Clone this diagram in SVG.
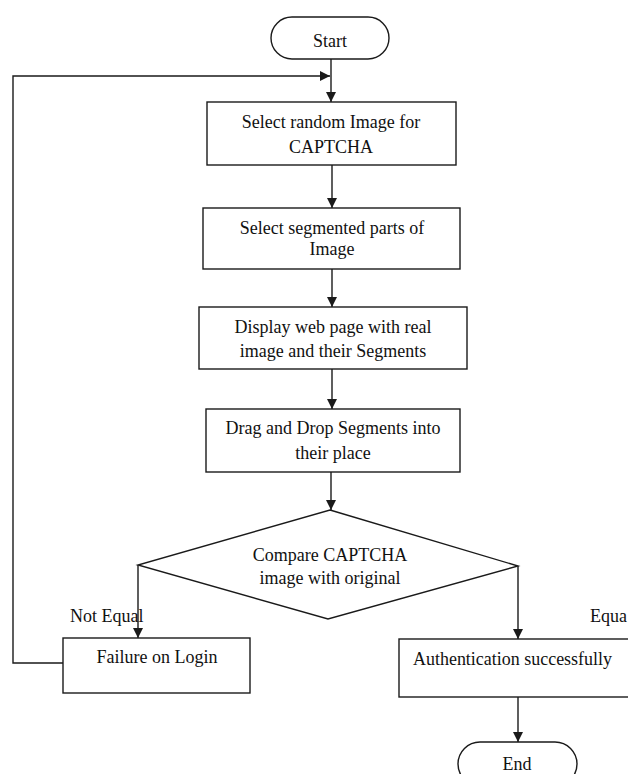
<svg xmlns="http://www.w3.org/2000/svg" width="628" height="774" viewBox="0 0 628 774">
<style>
.box{fill:#fff;stroke:#1a1a1a;stroke-width:1.4}
.t{font-family:"Liberation Serif","Times New Roman",serif;font-size:18px;fill:#111;text-anchor:middle}
.ts{font-family:"Liberation Serif","Times New Roman",serif;font-size:18px;fill:#111}
.c{fill:none;stroke:#1a1a1a;stroke-width:1.4}
</style>
<defs>
<marker id="ah" viewBox="0 0 10 10" refX="10" refY="5" markerWidth="10" markerHeight="10" markerUnits="userSpaceOnUse" orient="auto">
<path d="M0,0 L10,5 L0,10 z" fill="#1a1a1a"/>
</marker>
</defs>
<rect width="628" height="774" fill="#fff"/>
<g id="connectors">
<path class="c" d="M331,59 V102" marker-end="url(#ah)"/>
<path class="c" d="M63,663 H13 V76 H330" marker-end="url(#ah)"/>
<path class="c" d="M332,165 V208" marker-end="url(#ah)"/>
<path class="c" d="M332,269 V307" marker-end="url(#ah)"/>
<path class="c" d="M332,369 V409" marker-end="url(#ah)"/>
<path class="c" d="M331,472 V510" marker-end="url(#ah)"/>
<path class="c" d="M138,565 V638" marker-end="url(#ah)"/>
<path class="c" d="M518,566 V639" marker-end="url(#ah)"/>
<path class="c" d="M518,697 V742" marker-end="url(#ah)"/>
</g>
<g id="start">
<rect class="box" x="271" y="17" width="118" height="42" rx="21" ry="21"/>
<text class="t" x="330" y="47">Start</text>
</g>
<g id="box1">
<rect class="box" x="207" y="102" width="249" height="63"/>
<text class="t" x="331" y="128">Select random Image for</text>
<text class="t" x="331" y="153">CAPTCHA</text>
</g>
<g id="box2">
<rect class="box" x="203" y="208" width="257" height="61"/>
<text class="t" x="332" y="234">Select segmented parts of</text>
<text class="t" x="332" y="255">Image</text>
</g>
<g id="box3">
<rect class="box" x="199" y="307" width="268" height="62"/>
<text class="t" x="333" y="333">Display web page with real</text>
<text class="t" x="333" y="357">image and their Segments</text>
</g>
<g id="box4">
<rect class="box" x="206" y="409" width="254" height="63"/>
<text class="t" x="333" y="434">Drag and Drop Segments into</text>
<text class="t" x="333" y="459">their place</text>
</g>
<g id="decision">
<polygon class="box" points="330,510 518,566 328,619 138,565"/>
<text class="t" x="330" y="561">Compare CAPTCHA</text>
<text class="t" x="330" y="584">image with original</text>
</g>
<g id="labels">
<text class="ts" x="70" y="622">Not Equal</text>
<text class="ts" x="590" y="622">Equa</text>
</g>
<g id="failure">
<rect class="box" x="63" y="638" width="187" height="55"/>
<text class="t" x="157" y="663">Failure on Login</text>
</g>
<g id="auth">
<rect class="box" x="399" y="639" width="240" height="58"/>
<text class="ts" x="413" y="665" textLength="199" lengthAdjust="spacingAndGlyphs">Authentication successfully</text>
</g>
<g id="end">
<rect class="box" x="458" y="742" width="119" height="44" rx="22" ry="22"/>
<text class="t" x="517" y="770">End</text>
</g>
</svg>
